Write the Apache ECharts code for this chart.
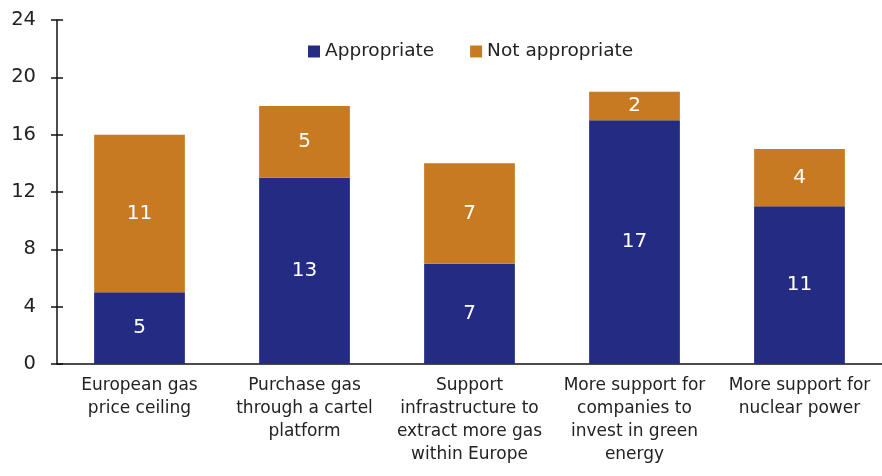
<!DOCTYPE html>
<html><head><meta charset="utf-8">
<script src="https://cdn.jsdelivr.net/npm/echarts@6/dist/echarts.min.js"></script>
<style>html,body{margin:0;padding:0;background:#fff}#c{width:882px;height:476px}</style>
</head><body><div id="c"></div>
<script>
const categories = ["European gas\nprice ceiling","Purchase gas\nthrough a cartel\nplatform","Support\ninfrastructure to\nextract more gas\nwithin Europe","More support for\ncompanies to\ninvest in green\nenergy","More support for\nnuclear power"];
const appropriate = [5, 13, 7, 17, 11];
const notAppropriate = [11, 5, 7, 2, 4];
const yTicks = {min: 0, max: 24, interval: 4};

const font = "'DejaVu Sans', sans-serif";
const chart = echarts.init(document.getElementById('c'));
const lbl = {show:true, position:'inside', color:'#fff', fontSize:20, fontFamily:font};
chart.setOption({
  animation:false,
  textStyle:{fontFamily:font},
  legend:{top:37, left:303, itemWidth:12, itemHeight:12, itemGap:36, icon:'rect',
    textStyle:{fontSize:18.5, color:'#222', fontFamily:font},
    data:['Appropriate','Not appropriate']},
  grid:{left:57, top:20, width:832, height:344},
  xAxis:{type:'category', data:categories,
    axisLine:{lineStyle:{color:'#111', width:1.5}}, axisTick:{show:false},
    axisLabel:{fontSize:17, color:'#222', lineHeight:23, margin:10, interval:0, fontFamily:font}},
  yAxis:[
    {type:'value', min:yTicks.min, max:yTicks.max, interval:yTicks.interval,
     axisLine:{show:true, lineStyle:{color:'#111', width:1.5}},
     axisTick:{show:true, length:6, lineStyle:{color:'#111', width:1.5}},
     axisLabel:{fontSize:19.5, color:'#222', margin:21, fontFamily:font},
     splitLine:{show:false}},
    {type:'value', min:yTicks.min, max:yTicks.max, interval:yTicks.interval, position:'left',
     axisLine:{show:false}, axisTick:{show:true, inside:true, length:6, lineStyle:{color:'#111', width:1.5}},
     axisLabel:{show:false}, splitLine:{show:false}}
  ],
  series:[
    {name:'Appropriate', type:'bar', stack:'s', data:appropriate, barWidth:'55%',
     itemStyle:{color:'#232C82'}, label:lbl},
    {name:'Not appropriate', type:'bar', stack:'s', data:notAppropriate, barWidth:'55%',
     itemStyle:{color:'#C87A22'}, label:lbl}
  ]
});
</script></body></html>
